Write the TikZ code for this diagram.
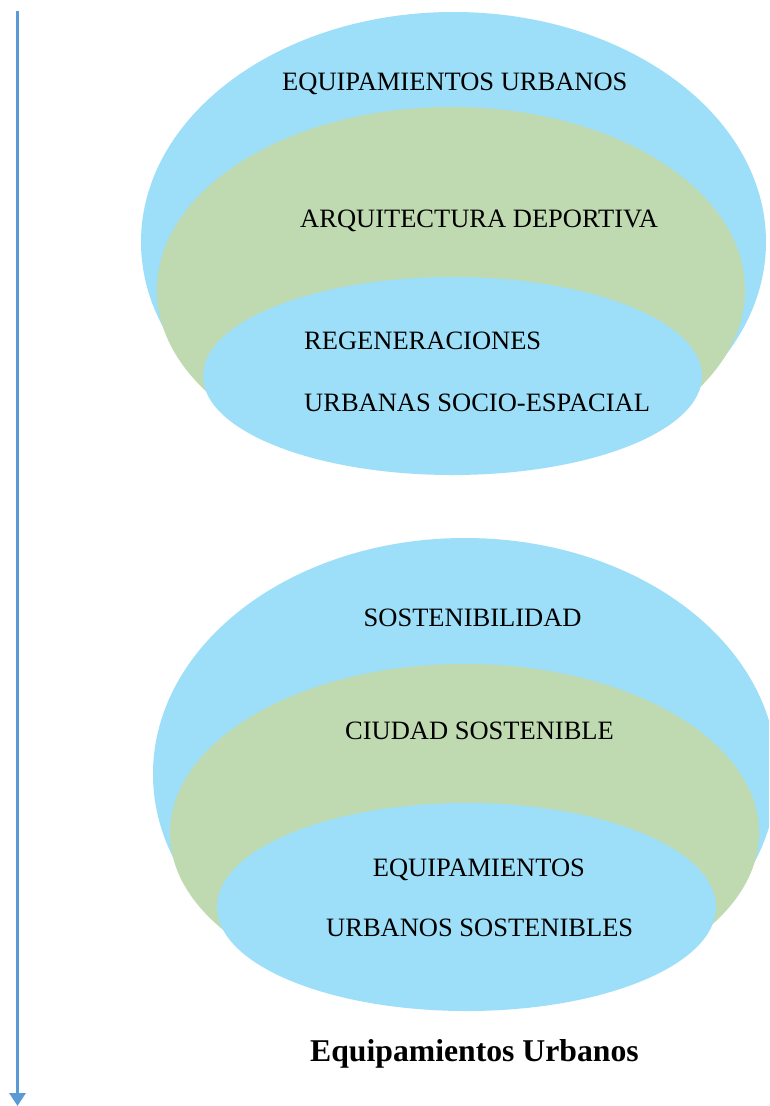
\documentclass[tikz,border=0pt]{standalone}
\usepackage{fontspec}
\setmainfont{Liberation Serif}
\usetikzlibrary{arrows.meta}
\definecolor{skyb}{RGB}{157,223,248}
\definecolor{sage}{RGB}{191,217,176}
\definecolor{arrowblue}{RGB}{91,155,213}
\tikzset{
  lbl/.style={anchor=base west, inner sep=0pt, text=black, font=\fontsize{26.5pt}{30pt}\selectfont},
  ttl/.style={anchor=base west, inner sep=0pt, text=black, font=\fontsize{31.7pt}{36pt}\selectfont\bfseries},
  axis/.style={draw=arrowblue, line width=3pt, -{Triangle[width=16pt,length=13pt]}}
}
\begin{document}
\begin{tikzpicture}[x=1pt,y=-1pt]
\useasboundingbox (0,0) rectangle (769,1106);
\fill[white] (0,0) rectangle (769,1106);
\begin{scope}
\clip (0,0) rectangle (769,1106);
% top group
\fill[skyb] (453.5,242) ellipse [x radius=312.5pt, y radius=230pt];
\fill[sage] (451,290) ellipse [x radius=294pt, y radius=183pt];
\fill[skyb] (452.5,376) ellipse [x radius=249.5pt, y radius=99pt];
% bottom group
\fill[skyb] (465,774) ellipse [x radius=312pt, y radius=236pt];
\fill[sage] (464.5,833) ellipse [x radius=294.5pt, y radius=169pt];
\fill[skyb] (466.5,907) ellipse [x radius=249.5pt, y radius=104pt];
\end{scope}
% labels
\node[lbl] (t1) at (282,90) {EQUIPAMIENTOS URBANOS};
\node[lbl] (t2) at (300,227.3) {ARQUITECTURA DEPORTIVA};
\node[lbl] (t3) at (304,349.3) {REGENERACIONES};
\node[lbl] (t4) at (304,411.7) {URBANAS SOCIO-ESPACIAL};
\node[lbl] (b1) at (363.5,626.7) {SOSTENIBILIDAD};
\node[lbl] (b2) at (345,739.3) {CIUDAD SOSTENIBLE};
\node[lbl] (b3) at (372.7,876) {EQUIPAMIENTOS};
\node[lbl] (b4) at (326,936.7) {URBANOS SOSTENIBLES};
\node[ttl] (title) at (310,1061) {Equipamientos Urbanos};
% axis arrow
\coordinate (atop) at (17.5,11);
\coordinate (abot) at (17.5,1106);
\draw[axis] (atop) -- (abot);
\end{tikzpicture}
\end{document}
